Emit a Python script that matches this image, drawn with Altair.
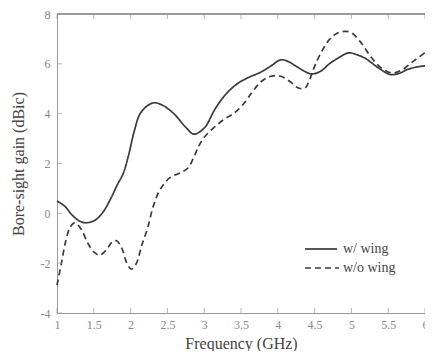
import altair as alt
import pandas as pd

# Solid: w/ wing
wing_f = [1.0, 1.1, 1.2, 1.3, 1.39, 1.52, 1.63, 1.74, 1.82, 1.9, 1.97, 2.05, 2.14, 2.3, 2.42, 2.58, 2.76, 2.86,
          3.0, 3.15, 3.3, 3.45, 3.6, 3.77, 3.9, 4.04, 4.15, 4.25, 4.45, 4.58, 4.7, 4.83, 4.96, 5.08, 5.2,
          5.36, 5.53, 5.65, 5.76, 5.88, 6.0]
wing_g = [0.49, 0.3, -0.05, -0.3, -0.38, -0.27, 0.07, 0.65, 1.15, 1.6, 2.3, 3.3, 4.05, 4.43, 4.36, 4.02, 3.42, 3.18,
          3.42, 4.2, 4.8, 5.2, 5.45, 5.67, 5.9, 6.16, 6.08, 5.9, 5.6, 5.7, 6.0, 6.25, 6.44, 6.36, 6.2,
          5.85, 5.57, 5.62, 5.77, 5.87, 5.92]

# Dashed: w/o wing
nowing_f = [1.0, 1.06, 1.12, 1.18, 1.24, 1.32, 1.42, 1.5, 1.58, 1.66, 1.75, 1.81, 1.88, 1.95, 2.01, 2.08,
            2.15, 2.23, 2.31, 2.4, 2.53, 2.67, 2.78, 2.86, 2.93, 3.0, 3.11, 3.26, 3.42, 3.55, 3.66, 3.78,
            3.91, 4.04, 4.17, 4.28, 4.37, 4.43, 4.5, 4.61, 4.7, 4.8, 4.9, 5.0, 5.13, 5.26, 5.4, 5.56,
            5.69, 5.84, 6.0]
nowing_g = [-2.88, -2.0, -1.1, -0.55, -0.38, -0.6, -1.2, -1.55, -1.68, -1.5, -1.15, -1.1, -1.4, -2.0, -2.24, -2.0,
            -1.3, -0.6, 0.3, 0.95, 1.42, 1.62, 1.82, 2.26, 2.72, 3.05, 3.38, 3.75, 4.05, 4.45, 4.9, 5.3,
            5.5, 5.5, 5.28, 5.03, 5.03, 5.35, 5.9, 6.57, 6.97, 7.22, 7.3, 7.25, 6.85, 6.3, 5.85, 5.63,
            5.76, 6.1, 6.45]

series_names = ["w/ wing", "w/o wing"]
x_ticks = [1, 1.5, 2, 2.5, 3, 3.5, 4, 4.5, 5, 5.5, 6]
y_ticks = [-4, -2, 0, 2, 4, 6, 8]

df = pd.concat([
    pd.DataFrame({"f": wing_f, "g": wing_g, "s": series_names[0]}),
    pd.DataFrame({"f": nowing_f, "g": nowing_g, "s": series_names[1]}),
])

FONT = "Liberation Serif"
GRAY = "#9a9a9a"
LINE = "#3a3a3a"
DASH = [6, 4]

xs = alt.Scale(domain=[1, 6], nice=False, zero=False)
ys = alt.Scale(domain=[-4, 8], nice=False, zero=False)

x_axis = alt.Axis(values=x_ticks, format="~g", ticks=False, grid=False, title="Frequency (GHz)",
                  labelPadding=6, titlePadding=5, labelOverlap=False, labelFlush=False)
y_axis = alt.Axis(values=y_ticks, ticks=False, grid=False, title="Bore-sight gain (dBic)",
                  labelPadding=7, titlePadding=14, labelOverlap=False,
                  labelExpr="replace(datum.label, '\u2212', '-')")

lines = alt.Chart(df).mark_line(strokeWidth=1.7, interpolate="catmull-rom", color=LINE).encode(
    x=alt.X("f:Q", scale=xs, axis=x_axis),
    y=alt.Y("g:Q", scale=ys, axis=y_axis),
    strokeDash=alt.StrokeDash("s:N", scale=alt.Scale(domain=series_names, range=[[1, 0], DASH]),
                              legend=None),
    detail="s:N",
)

xt = pd.DataFrame({"v": x_ticks})
yt = pd.DataFrame({"v": y_ticks})

bottom_ticks = alt.Chart(xt).mark_tick(orient="vertical", size=5, thickness=1, color=GRAY, yOffset=-2.5).encode(
    x=alt.X("v:Q", scale=xs, axis=x_axis), y=alt.datum(-4, scale=ys, axis=y_axis))
top_ticks = alt.Chart(xt).mark_tick(orient="vertical", size=5, thickness=1, color=GRAY, yOffset=2.5).encode(
    x=alt.X("v:Q", scale=xs, axis=x_axis), y=alt.datum(8, scale=ys, axis=y_axis))
left_ticks = alt.Chart(yt).mark_tick(orient="horizontal", size=5, thickness=1, color=GRAY, xOffset=2.5).encode(
    y=alt.Y("v:Q", scale=ys, axis=y_axis), x=alt.datum(1, scale=xs, axis=x_axis))
top_border = alt.Chart(xt).mark_rule(color=GRAY, strokeWidth=1).encode(
    x=alt.datum(1, scale=xs, axis=x_axis), x2=alt.datum(6), y=alt.datum(8, scale=ys, axis=y_axis))

# legend (drawn manually, inside the plot)
leg_rows = pd.DataFrame({"s": series_names, "r": [0, 1]})
leg_solid = alt.Chart(leg_rows).transform_filter("datum.r == 0").mark_rule(
    color=LINE, strokeWidth=1.7).encode(x=alt.value(248), x2=alt.value(280), y=alt.value(235))
leg_dash = alt.Chart(leg_rows).transform_filter("datum.r == 1").mark_rule(
    color=LINE, strokeWidth=1.7, strokeDash=DASH).encode(x=alt.value(248), x2=alt.value(282), y=alt.value(254))
leg_text0 = alt.Chart(leg_rows).transform_filter("datum.r == 0").mark_text(
    align="left", baseline="middle", font=FONT, fontSize=14, color="#444444").encode(
    x=alt.value(286), y=alt.value(235), text="s:N")
leg_text1 = alt.Chart(leg_rows).transform_filter("datum.r == 1").mark_text(
    align="left", baseline="middle", font=FONT, fontSize=14, color="#444444").encode(
    x=alt.value(286), y=alt.value(254), text="s:N")

chart = alt.layer(lines, bottom_ticks, top_ticks, left_ticks, top_border,
                  leg_solid, leg_dash, leg_text0, leg_text1).properties(
    width=368, height=299,
    autosize=alt.AutoSizeParams(type="none"),
    padding={"left": 49, "top": 6, "right": 0, "bottom": 38},
    background="white",
).configure_view(stroke=None).configure_axis(
    domainColor=GRAY, labelFont=FONT, labelFontSize=12, labelColor="#888888",
    titleFont=FONT, titleFontSize=16, titleFontWeight="normal", titleColor="#444444",
)

chart.save("out.html", embed_options={"renderer": "svg", "actions": False})
